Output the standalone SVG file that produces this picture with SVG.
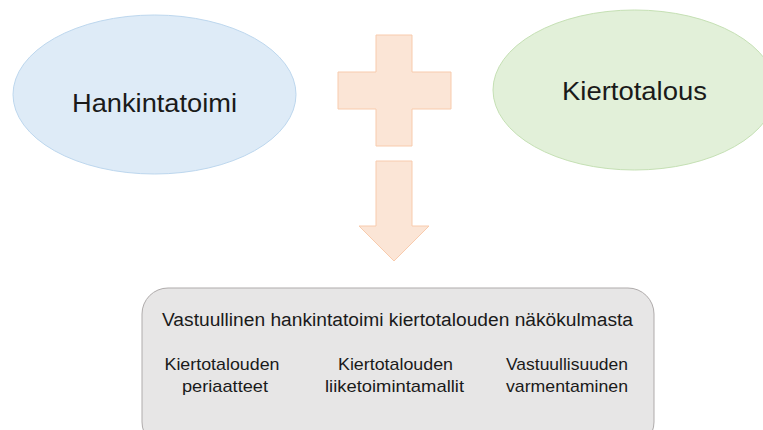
<svg xmlns="http://www.w3.org/2000/svg" width="763" height="430" viewBox="0 0 763 430">
<style>
.lbl{font-family:"Liberation Sans",Arial,sans-serif;fill:#1a1a1a;text-anchor:middle}
.big{font-size:25px;font-weight:300}
.title{font-size:18px}
.sub{font-size:17px}
.orange{fill:#FBE5D6;stroke:#F8CBAD;stroke-width:1}
</style>
<rect width="763" height="430" fill="#ffffff"/>
<g id="hankintatoimi">
<ellipse cx="154.5" cy="94.5" rx="141.5" ry="79.5" fill="#DEEBF7" stroke="#BDD7EE" stroke-width="1"/>
<text class="lbl big" x="154.5" y="112" textLength="165" lengthAdjust="spacingAndGlyphs">Hankintatoimi</text>
</g>
<g id="kiertotalous">
<ellipse cx="634.5" cy="90" rx="141.5" ry="80" fill="#E2F0D9" stroke="#C5E0B4" stroke-width="1"/>
<text class="lbl big" x="634.5" y="100" textLength="145" lengthAdjust="spacingAndGlyphs">Kiertotalous</text>
</g>
<g id="plus">
<path class="orange" d="M376,35 H412 V72 H451 V109 H412 V146 H376 V109 H338 V72 H376 Z"/>
</g>
<g id="connectors">
<path class="orange" d="M376,161 H412 V226 H429 L394,261 L359,226 H376 Z"/>
</g>
<g id="result">
<rect x="142" y="288" width="512" height="160" rx="26" ry="26" fill="#E7E6E6" stroke="#AFABAB" stroke-width="1"/>
<text class="lbl title" x="397.5" y="326" textLength="471" lengthAdjust="spacingAndGlyphs">Vastuullinen hankintatoimi kiertotalouden näkökulmasta</text>
<text class="lbl sub" x="222" y="370" textLength="115" lengthAdjust="spacingAndGlyphs">Kiertotalouden</text>
<text class="lbl sub" x="225" y="392" textLength="86" lengthAdjust="spacingAndGlyphs">periaatteet</text>
<text class="lbl sub" x="395.5" y="370" textLength="115" lengthAdjust="spacingAndGlyphs">Kiertotalouden</text>
<text class="lbl sub" x="394.5" y="392" textLength="139" lengthAdjust="spacingAndGlyphs">liiketoimintamallit</text>
<text class="lbl sub" x="567" y="370" textLength="122" lengthAdjust="spacingAndGlyphs">Vastuullisuuden</text>
<text class="lbl sub" x="567" y="392" textLength="122" lengthAdjust="spacingAndGlyphs">varmentaminen</text>
</g>
</svg>
